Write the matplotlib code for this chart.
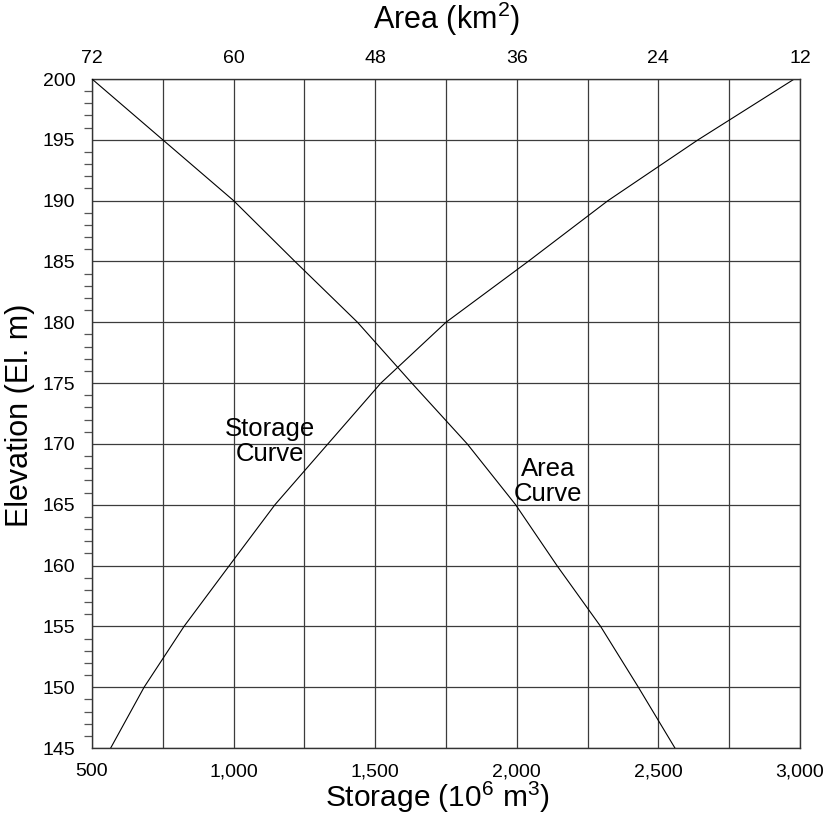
import matplotlib
matplotlib.use("Agg")
import matplotlib.pyplot as plt

plt.rcParams['font.family'] = ['Liberation Sans', 'DejaVu Sans']
plt.rcParams['mathtext.fontset'] = 'custom'
plt.rcParams['mathtext.rm'] = 'Liberation Sans'
plt.rcParams['mathtext.default'] = 'regular'

# elevation (El. m) at each reading
elevation = [145, 150, 155, 160, 165, 170, 175, 180, 185, 190, 195, 200]
# storage (10^6 m3)
storage = [566, 684, 825, 985, 1146, 1333, 1520, 1750, 2040, 2322, 2640, 2980]
# area (km2)
area = [22.6, 25.7, 28.9, 32.6, 36.1, 40.2, 44.9, 49.5, 54.8, 60.0, 66.0, 72.0]

storage_ticks = [500, 1000, 1500, 2000, 2500, 3000]
storage_labels = ['500', '1,000', '1,500', '2,000', '2,500', '3,000']
area_ticks = [72, 60, 48, 36, 24, 12]
elev_ticks = list(range(145, 201, 5))

fig = plt.figure(figsize=(8.27, 8.17), dpi=100)
ax = fig.add_axes([92 / 827, 1 - 748 / 817, 708 / 827, 669 / 817])

grid_col = '#3c3c3c'
ax.set_xlim(500, 3000)
ax.set_ylim(145, 200)
ax.set_xticks(storage_ticks)
ax.set_xticklabels(storage_labels)
ax.set_xticks(range(500, 3001, 250), minor=True)
ax.set_yticks(elev_ticks)
ax.set_yticks(range(145, 201), minor=True)
ax.grid(True, which='major', color=grid_col, lw=0.9)
ax.xaxis.grid(True, which='minor', color=grid_col, lw=0.9)
ax.tick_params(axis='x', which='both', length=0, labelsize=14, pad=11)
ax.tick_params(axis='y', which='major', length=0, labelsize=14, pad=12)
ax.tick_params(axis='y', which='minor', length=6, width=0.9, color='#555555', direction='out')
for s in ax.spines.values():
    s.set_color('#333333')
    s.set_linewidth(1.0)

ax.plot(storage, elevation, color='black', lw=0.8)

ax2 = ax.twiny()
ax2.set_xlim(72, 12)
ax2.set_xticks(area_ticks)
ax2.set_xticklabels([str(a) for a in area_ticks])
ax2.tick_params(axis='x', length=0, labelsize=14, pad=9)
ax2.plot(area, elevation, color='black', lw=0.8)
for s in ax2.spines.values():
    s.set_visible(False)

ax.text(1128, 170.2, 'Storage\nCurve', fontsize=18.5, ha='center', va='center',
        linespacing=1.05)
ax.text(2110, 166.9, 'Area\nCurve', fontsize=18.5, ha='center', va='center',
        linespacing=1.05)

fig.text(447 / 827, 1 - 19 / 817, 'Area (km$^2$)', fontsize=22, ha='center', va='center')
fig.text(437 / 827, 1 - 797 / 817, 'Storage (10$^6$ m$^3$)', fontsize=21.5,
         ha='center', va='center')
fig.text(20 / 827, 1 - 415 / 817, 'Elevation (El. m)', fontsize=22, ha='center',
         va='center', rotation=90)

fig.savefig('out.png', dpi=100)
